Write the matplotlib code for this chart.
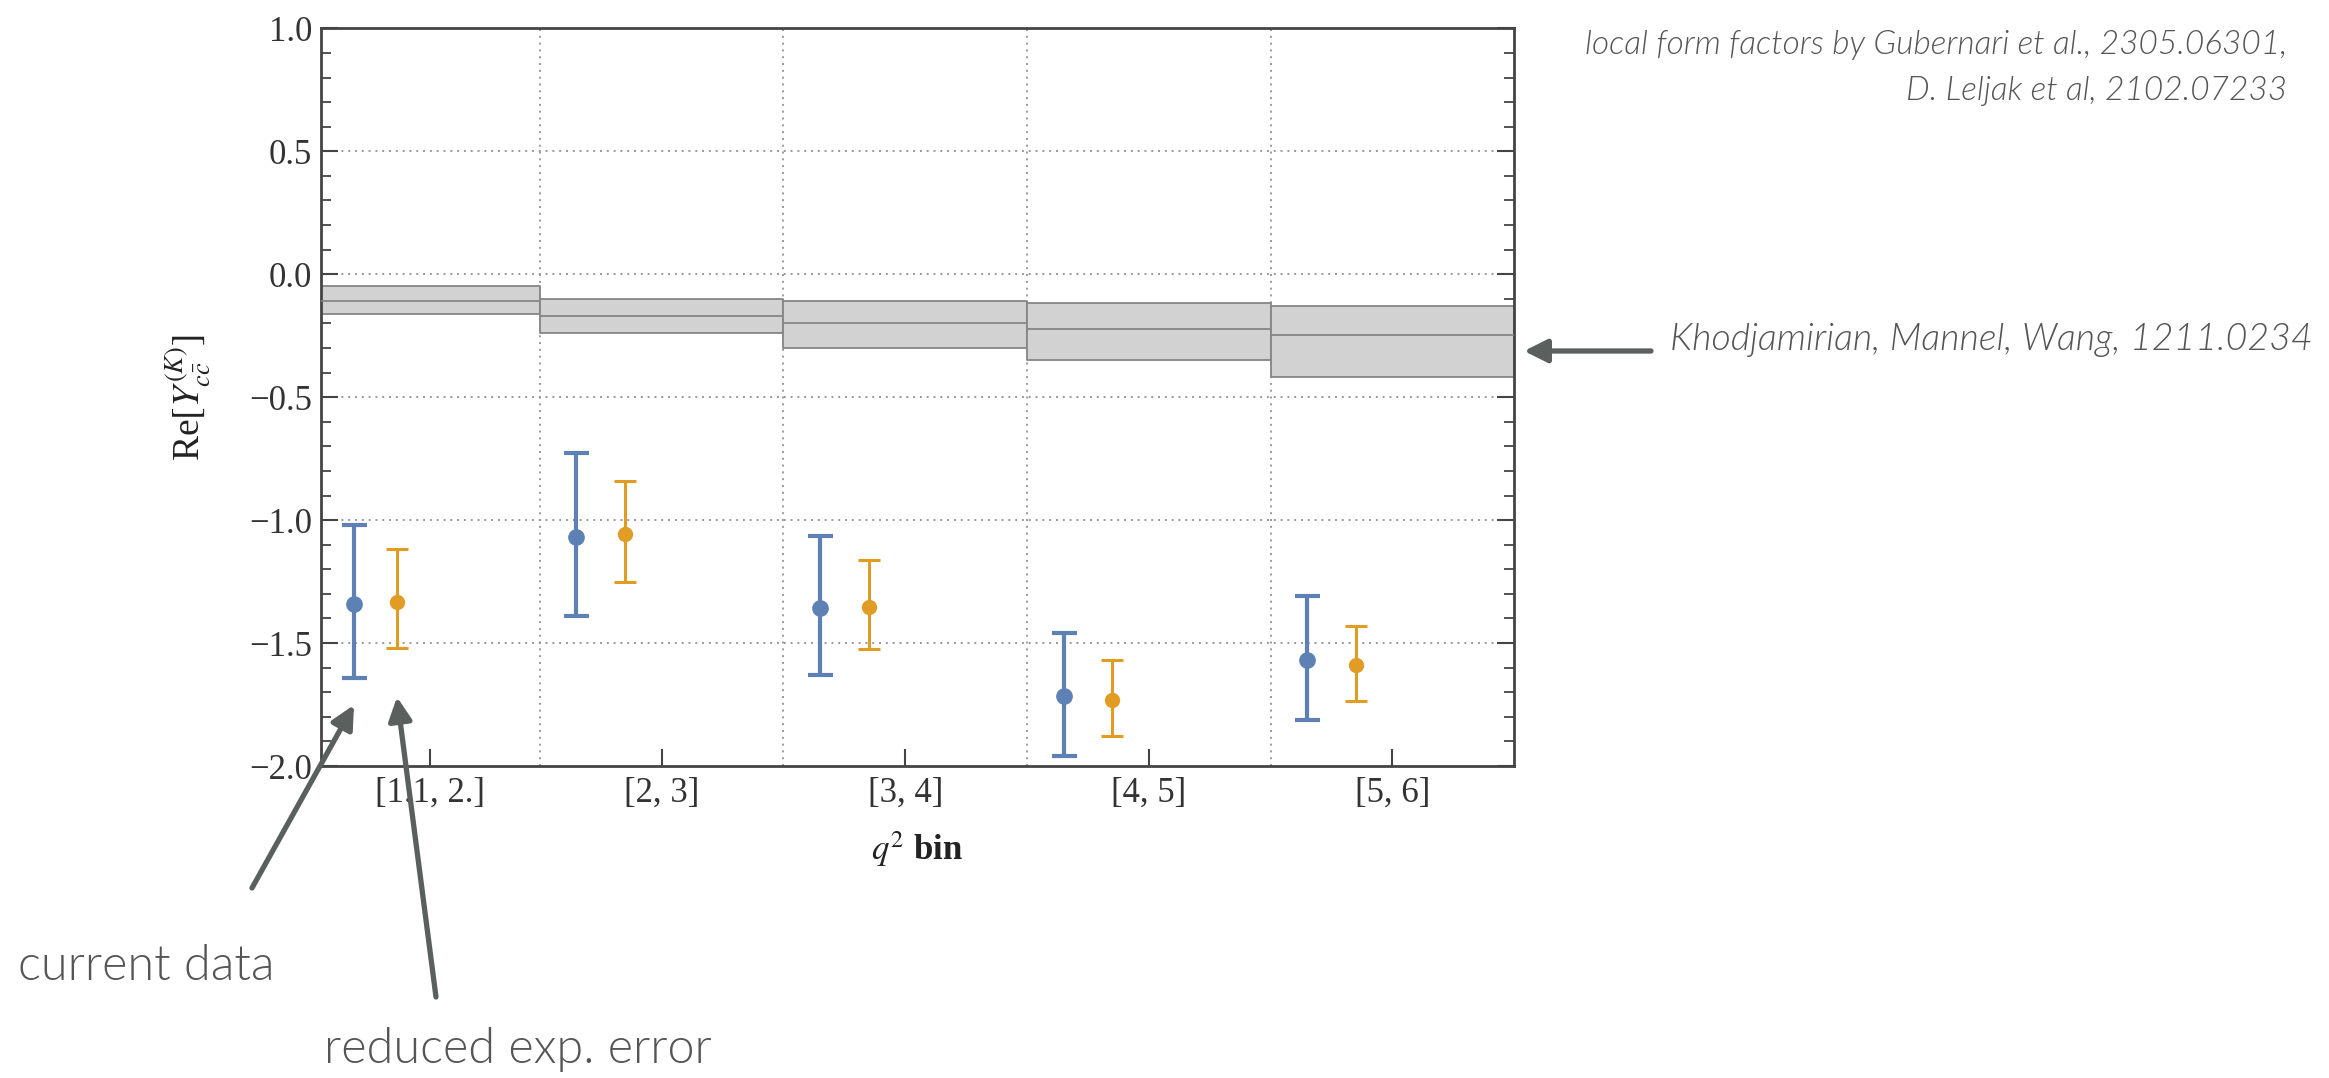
"""
Re[Y_cc^(K)] per q^2 bin: current data vs reduced exp. error,
with the Khodjamirian-Mannel-Wang band.
"""

import numpy as np
import matplotlib
matplotlib.use("Agg")
import matplotlib.pyplot as plt
from matplotlib.ticker import MultipleLocator

# q^2 bins
bin_lo = [1.1, 2.0, 3.0, 4.0, 5.0]
bin_hi = [2.0, 3.0, 4.0, 5.0, 6.0]
bin_labels = ["[1.1, 2.]", "[2, 3]", "[3, 4]", "[4, 5]", "[5, 6]"]

# current data (blue)
cur_val = [-1.343, -1.069, -1.359, -1.715, -1.569]
cur_low = [-1.644, -1.389, -1.631, -1.959, -1.813]
cur_high = [-1.019, -0.726, -1.065, -1.457, -1.310]

# reduced exp. error (orange)
red_val = [-1.333, -1.058, -1.355, -1.732, -1.589]
red_low = [-1.522, -1.251, -1.526, -1.878, -1.736]
red_high = [-1.118, -0.839, -1.164, -1.569, -1.430]

# KMW band
kmw_mid = [-0.110, -0.168, -0.200, -0.221, -0.249]
kmw_low = [-0.160, -0.239, -0.300, -0.350, -0.419]
kmw_high = [-0.049, -0.102, -0.110, -0.118, -0.130]

BLUE = "#5e81b5"
ORANGE = "#e19c24"
AXCOL = "#444444"
ANNCOL = "#5a605e"


def main():
    plt.rcParams["font.family"] = ["Liberation Serif", "DejaVu Serif"]
    plt.rcParams["mathtext.fontset"] = "stix"

    fig = plt.figure(figsize=(23.29, 10.78), dpi=100)
    ax = fig.add_axes([0.1377, 0.2894, 0.5124, 0.6843])

    lo = np.array(bin_lo)
    hi = np.array(bin_hi)
    w = hi - lo
    centers = (lo + hi) / 2
    x_cur = lo + 0.15 * w
    x_red = lo + 0.35 * w

    # band, one box per bin
    for i in range(len(lo)):
        ax.fill_between([lo[i], hi[i]], [kmw_low[i]] * 2, [kmw_high[i]] * 2,
                        facecolor="#d2d2d2", edgecolor="#858585", lw=1.3, zorder=2)
        ax.hlines(kmw_mid[i], lo[i], hi[i], color="#858585", lw=1.3, zorder=3)

    cv = np.array(cur_val)
    ax.errorbar(x_cur, cv, yerr=[cv - np.array(cur_low), np.array(cur_high) - cv],
                fmt="o", color=BLUE, ms=11, elinewidth=3.0, capsize=9, capthick=3.0,
                zorder=5)
    rv = np.array(red_val)
    ax.errorbar(x_red, rv, yerr=[rv - np.array(red_low), np.array(red_high) - rv],
                fmt="o", color=ORANGE, ms=10, elinewidth=2.2, capsize=8, capthick=2.2,
                zorder=5)

    ax.set_xlim(1.1, 6.0)
    ax.set_ylim(-2.0, 1.0)

    # grid: horizontal at major y ticks, vertical at bin edges
    for yv in [-1.5, -1.0, -0.5, 0.0, 0.5]:
        ax.axhline(yv, color="#999999", lw=1.4, ls=(0, (1, 2.5)), zorder=1)
    for xv in bin_lo[1:]:
        ax.axvline(xv, color="#999999", lw=1.4, ls=(0, (1, 2.5)), zorder=1)

    ax.set_xticks(centers)
    ax.set_xticklabels(bin_labels)
    ax.yaxis.set_major_locator(MultipleLocator(0.5))
    ax.yaxis.set_minor_locator(MultipleLocator(0.1))
    ax.set_yticklabels([f"{v:.1f}".replace("-", "\u2212") for v in ax.get_yticks()])

    ax.tick_params(axis="x", which="both", direction="in", top=False, length=12,
                   width=1.5, color=AXCOL, labelsize=25, labelcolor="#333333", pad=8)
    ax.tick_params(axis="y", which="major", direction="in", right=True, length=12,
                   width=1.5, color=AXCOL, labelsize=25, labelcolor="#333333", pad=6)
    ax.tick_params(axis="y", which="minor", direction="in", right=True, length=7,
                   width=1.3, color=AXCOL)
    for sp in ax.spines.values():
        sp.set_color(AXCOL)
        sp.set_linewidth(2.0)

    ax.set_xlabel(r"$\boldsymbol{q^2}$ bin", fontsize=25, fontweight="bold",
                  color="#222222", labelpad=14)
    ax.set_ylabel(r"Re$[Y_{c\bar{c}}^{(K)}]$", fontsize=27, color="#222222",
                  labelpad=26)

    # annotations (figure pixels, origin bottom-left)
    H = 1078
    ann_font = dict(family=["Lato", "DejaVu Sans"], fontweight=300, color="#555555")
    fig.text(2287, H - 45, "local form factors by Gubernari et al., 2305.06301,",
             transform=None, ha="right", va="center", fontsize=24, style="italic",
             **ann_font)
    fig.text(2287, H - 91, "D. Leljak et al, 2102.07233", transform=None,
             ha="right", va="center", fontsize=24, style="italic", **ann_font)
    fig.text(2313, H - 340, "Khodjamirian, Mannel, Wang, 1211.0234", transform=None,
             ha="right", va="center", fontsize=27, style="italic", **ann_font)
    fig.text(18, H - 966, "current data", transform=None, ha="left", va="center",
             fontsize=35, **ann_font)
    fig.text(324, H - 1049, "reduced exp. error", transform=None, ha="left",
             va="center", fontsize=35, **ann_font)

    arrow = dict(arrowstyle="-|>,head_length=1.4,head_width=0.7", color=ANNCOL,
                 lw=3.8, shrinkA=0, shrinkB=0)
    ax.annotate("", xy=(1524, H - 351), xytext=(1651, H - 351),
                xycoords="figure pixels", textcoords="figure pixels",
                arrowprops=arrow, annotation_clip=False)
    ax.annotate("", xy=(354, H - 705), xytext=(252, H - 888),
                xycoords="figure pixels", textcoords="figure pixels",
                arrowprops=arrow, annotation_clip=False)
    ax.annotate("", xy=(397, H - 697), xytext=(436, H - 997),
                xycoords="figure pixels", textcoords="figure pixels",
                arrowprops=arrow, annotation_clip=False)

    fig.savefig("out.png", dpi=100)
    plt.close(fig)


if __name__ == "__main__":
    main()
